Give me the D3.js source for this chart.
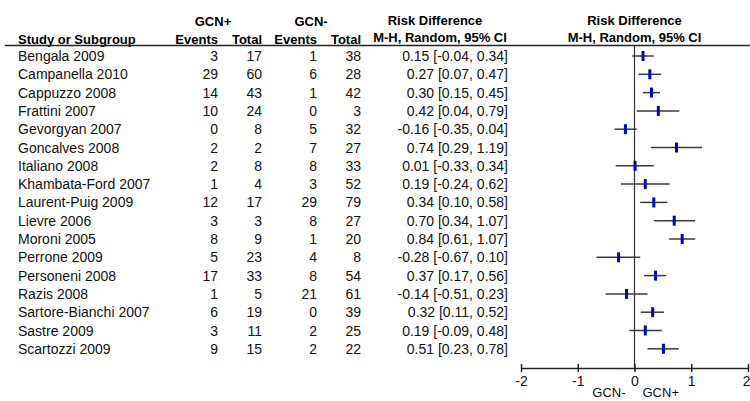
<!DOCTYPE html>
<html>
<head>
<meta charset="utf-8">
<script src="https://cdn.jsdelivr.net/npm/d3@7"></script>
<style>
  html, body { margin: 0; padding: 0; background: #fff; }
  svg { display: block; font-family: "Liberation Sans", Arial, sans-serif; }
</style>
</head>
<body>
<svg id="chart" width="750" height="401"></svg>
<script>
const studies = ["Bengala 2009","Campanella 2010","Cappuzzo 2008","Frattini 2007","Gevorgyan 2007","Goncalves 2008","Italiano 2008","Khambata-Ford 2007","Laurent-Puig 2009","Lievre 2006","Moroni 2005","Perrone 2009","Personeni 2008","Razis 2008","Sartore-Bianchi 2007","Sastre 2009","Scartozzi 2009"];
const posEvents = [3,29,14,10,0,2,2,1,12,3,8,5,17,1,6,3,9];
const posTotal  = [17,60,43,24,8,2,8,4,17,3,9,23,33,5,19,11,15];
const negEvents = [1,6,1,0,5,7,8,3,29,8,1,4,8,21,0,2,2];
const negTotal  = [38,28,42,3,32,27,33,52,79,27,20,8,54,61,39,25,22];
const riskDiff  = [0.15,0.27,0.30,0.42,-0.16,0.74,0.01,0.19,0.34,0.70,0.84,-0.28,0.37,-0.14,0.32,0.19,0.51];
const ciLow     = [-0.04,0.07,0.15,0.04,-0.35,0.29,-0.33,-0.24,0.10,0.34,0.61,-0.67,0.17,-0.51,0.11,-0.09,0.23];
const ciHigh    = [0.34,0.47,0.45,0.79,0.04,1.19,0.34,0.62,0.58,1.07,1.07,0.10,0.56,0.23,0.52,0.48,0.78];
const axisTicks = [-2,-1,0,1,2];

const svg = d3.select("#chart");
const x = d3.scaleLinear().domain([-2, 2]).range([521, 748]);
const y = d3.scaleBand().domain(studies).range([46.85, 46.85 + 17 * 18.3]).padding(0);
const cy = s => y(s) + y.bandwidth() / 2;
const f2 = v => v.toFixed(2);

// headers
const hdr = svg.append("g").attr("font-weight", "bold").attr("font-size", 13).attr("fill", "#000");
hdr.append("text").attr("x", 213).attr("y", 26).attr("text-anchor", "middle").text("GCN+");
hdr.append("text").attr("x", 311).attr("y", 26).attr("text-anchor", "middle").text("GCN-");
hdr.append("text").attr("x", 18).attr("y", 44).text("Study or Subgroup");
hdr.append("text").attr("x", 218).attr("y", 44).attr("text-anchor", "end").text("Events");
hdr.append("text").attr("x", 262).attr("y", 44).attr("text-anchor", "end").text("Total");
hdr.append("text").attr("x", 317).attr("y", 44).attr("text-anchor", "end").text("Events");
hdr.append("text").attr("x", 361).attr("y", 44).attr("text-anchor", "end").text("Total");
hdr.append("text").attr("x", 435).attr("y", 25).attr("text-anchor", "middle").text("Risk Difference");
hdr.append("text").attr("x", 440).attr("y", 42).attr("text-anchor", "middle").text("M-H, Random, 95% CI");
hdr.append("text").attr("x", x(0)).attr("y", 25).attr("text-anchor", "middle").text("Risk Difference");
hdr.append("text").attr("x", x(0)).attr("y", 42).attr("text-anchor", "middle").text("M-H, Random, 95% CI");

svg.append("line").attr("x1", 5).attr("x2", 750).attr("y1", 45.5).attr("y2", 45.5)
  .attr("stroke", "#222").attr("stroke-width", 1.5);

// rows
const rows = svg.append("g").attr("font-size", 14).attr("fill", "#111");
studies.forEach((s, i) => {
  const yy = cy(s) + 5;
  rows.append("text").attr("x", 18).attr("y", yy).text(s);
  rows.append("text").attr("x", 218).attr("y", yy).attr("text-anchor", "end").text(posEvents[i]);
  rows.append("text").attr("x", 262).attr("y", yy).attr("text-anchor", "end").text(posTotal[i]);
  rows.append("text").attr("x", 317).attr("y", yy).attr("text-anchor", "end").text(negEvents[i]);
  rows.append("text").attr("x", 361).attr("y", yy).attr("text-anchor", "end").text(negTotal[i]);
  rows.append("text").attr("x", 508).attr("y", yy).attr("text-anchor", "end")
    .text(`${f2(riskDiff[i])} [${f2(ciLow[i])}, ${f2(ciHigh[i])}]`);
});

// zero line
svg.append("line").attr("x1", x(0)).attr("x2", x(0)).attr("y1", 45).attr("y2", 368)
  .attr("stroke", "#333").attr("stroke-width", 1.2);

// CI lines and markers
const plot = svg.append("g");
plot.selectAll("line.ci").data(studies).join("line").attr("class", "ci")
  .attr("x1", (d, i) => x(ciLow[i])).attr("x2", (d, i) => x(ciHigh[i]))
  .attr("y1", d => cy(d)).attr("y2", d => cy(d))
  .attr("stroke", "#3a3a3a").attr("stroke-width", 1.5);
plot.selectAll("rect.pt").data(studies).join("rect").attr("class", "pt")
  .attr("x", (d, i) => x(riskDiff[i]) - 1.5).attr("y", d => cy(d) - 5)
  .attr("width", 3).attr("height", 10).attr("fill", "#0000cc");

// axis
const axis = d3.axisBottom(x).tickValues(axisTicks).tickFormat(d => String(d))
  .tickSizeInner(4).tickSizeOuter(0).tickPadding(4);
const ag = svg.append("g").attr("transform", "translate(0,368)").call(axis);
ag.select(".domain").attr("stroke", "#222").attr("stroke-width", 1.5);
ag.selectAll(".tick line").attr("y1", -4).attr("y2", 4).attr("stroke", "#222").attr("stroke-width", 1.5);
ag.selectAll(".tick text").attr("font-size", 14).attr("fill", "#111")
  .attr("font-family", "Liberation Sans, Arial, sans-serif");
ag.selectAll(".tick").filter(d => d === 2).select("text").attr("text-anchor", "end").attr("dx", 2);

// bottom direction labels
svg.append("text").attr("x", x(0) - 9).attr("y", 397).attr("text-anchor", "end")
  .attr("font-size", 13).attr("fill", "#111").text("GCN-");
svg.append("text").attr("x", x(0) + 8).attr("y", 397).attr("text-anchor", "start")
  .attr("font-size", 13).attr("fill", "#111").text("GCN+");
</script>
</body>
</html>
